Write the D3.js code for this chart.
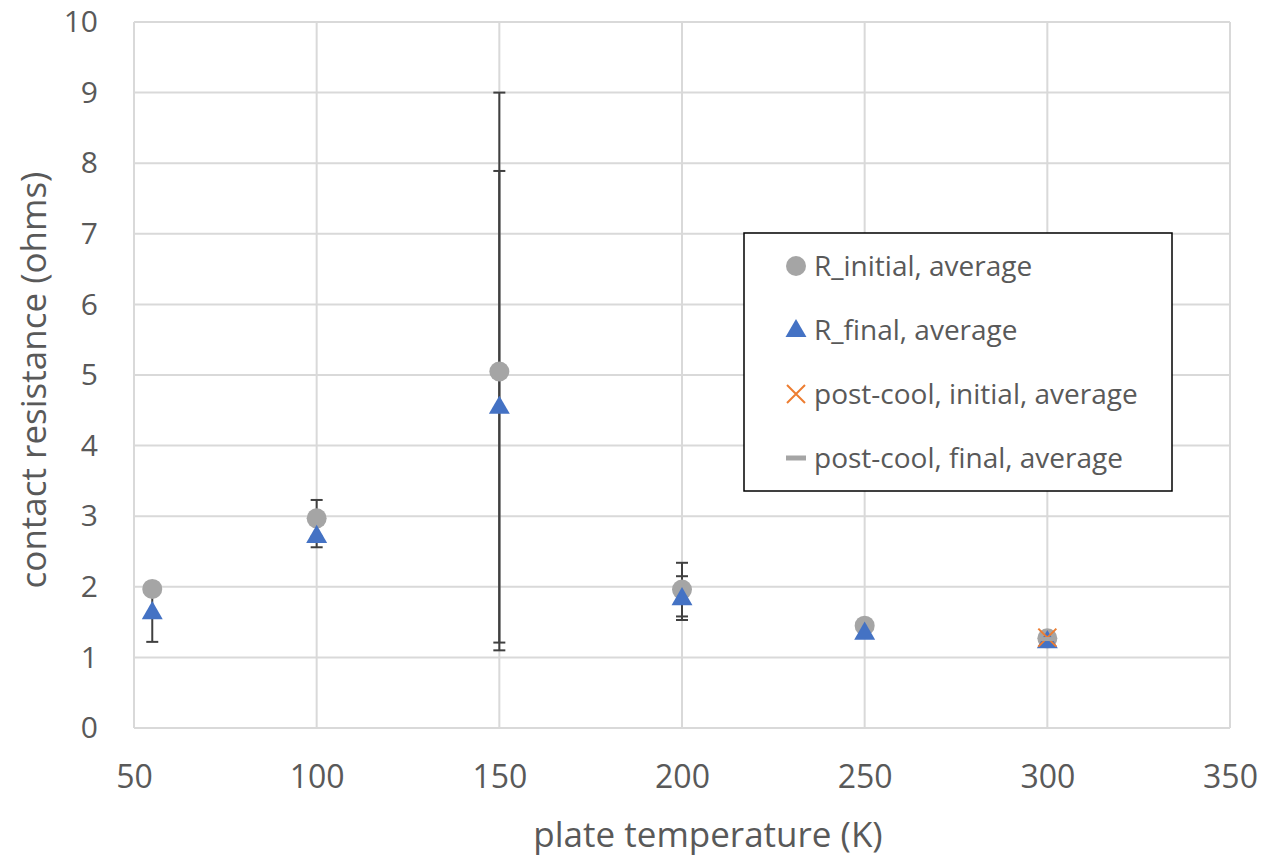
<!DOCTYPE html>
<html>
<head>
<meta charset="utf-8">
<script src="https://cdnjs.cloudflare.com/ajax/libs/d3/7.8.5/d3.min.js"></script>
<style>
  body { margin: 0; background: #fff; }
  text { font-family: "Open Sans", "Noto Sans", sans-serif; fill: #595959; }
</style>
</head>
<body>
<svg id="chart"></svg>
<script>
// Temperatures (K)
const temps = [55, 100, 150, 200, 250, 300];
// R_initial averages and error (+/-)
const rInitial = [1.97, 2.97, 5.05, 1.96, 1.45, 1.27];
const rInitialErr = [0.08, 0.26, 3.95, 0.38, 0, 0];
// R_final averages and error
const rFinal = [1.64, 2.72, 4.55, 1.84, 1.35, 1.23];
const rFinalErr = [0.42, 0.16, 3.34, 0.31, 0, 0];
// post-cool values, only measured at 300 K
const postTemps = [300];
const postInitial = [1.28];
const postFinal = [1.26];

const xTicks = [50, 100, 150, 200, 250, 300, 350];
const yTicks = [0, 1, 2, 3, 4, 5, 6, 7, 8, 9, 10];

const width = 1265, height = 860;
const margin = { top: 22, right: 35, bottom: 132, left: 134 };

const svg = d3.select('#chart')
  .attr('width', width)
  .attr('height', height);

const x = d3.scaleLinear().domain([50, 350]).range([margin.left, width - margin.right]);
const y = d3.scaleLinear().domain([0, 10]).range([height - margin.bottom, margin.top]);

const gridColor = '#d9d9d9';

// Gridlines
svg.append('g')
  .selectAll('line')
  .data(yTicks)
  .enter()
  .append('line')
  .attr('x1', x(50)).attr('x2', x(350))
  .attr('y1', d => y(d)).attr('y2', d => y(d))
  .attr('stroke', gridColor)
  .attr('stroke-width', 2);

svg.append('g')
  .selectAll('line')
  .data(xTicks)
  .enter()
  .append('line')
  .attr('x1', d => x(d)).attr('x2', d => x(d))
  .attr('y1', y(0)).attr('y2', y(10))
  .attr('stroke', gridColor)
  .attr('stroke-width', 2);

// Axes (labels only, Excel style)
const xAxis = svg.append('g')
  .attr('transform', `translate(0,${y(0)})`)
  .call(d3.axisBottom(x).tickValues(xTicks).tickSize(0).tickPadding(37));
xAxis.select('.domain').remove();
xAxis.selectAll('text').style('font-size', '32px').attr('fill', '#595959');

const yAxis = svg.append('g')
  .attr('transform', `translate(${x(50)},0)`)
  .call(d3.axisLeft(y).tickValues(yTicks).tickSize(0).tickPadding(36));
yAxis.select('.domain').remove();
yAxis.selectAll('text').style('font-size', '30px').attr('fill', '#595959');

// Axis titles
svg.append('text')
  .attr('x', (x(50) + x(350)) / 2 + 26)
  .attr('y', 847)
  .attr('text-anchor', 'middle')
  .style('font-size', '35px')
  .text('plate temperature (K)');

svg.append('text')
  .attr('transform', `translate(46,${(y(0) + y(10)) / 2 + 5}) rotate(-90)`)
  .attr('text-anchor', 'middle')
  .style('font-size', '35px')
  .text('contact resistance (ohms)');

// Error bars
const errColor = '#404040';
const drawErrors = (vals, errs) => {
  const data = temps.map((t, i) => ({ t, v: vals[i], e: errs[i] })).filter(d => d.e > 0);
  const g = svg.append('g').attr('stroke', errColor).attr('stroke-width', 2);
  g.selectAll('.stem').data(data).enter().append('line')
    .attr('x1', d => x(d.t)).attr('x2', d => x(d.t))
    .attr('y1', d => y(d.v - d.e)).attr('y2', d => y(d.v + d.e));
  [-1, 1].forEach(s => {
    g.selectAll('.cap' + s).data(data).enter().append('line')
      .attr('x1', d => x(d.t) - 6).attr('x2', d => x(d.t) + 6)
      .attr('y1', d => y(d.v + s * d.e)).attr('y2', d => y(d.v + s * d.e));
  });
};
drawErrors(rInitial, rInitialErr);
drawErrors(rFinal, rFinalErr);

const grey = '#a5a5a5', blue = '#4472c4', orange = '#ed7d31';
const triangle = d3.symbol().type(d3.symbolTriangle).size(190);

// R_initial circles
svg.append('g')
  .selectAll('circle')
  .data(temps)
  .enter()
  .append('circle')
  .attr('cx', d => x(d))
  .attr('cy', (d, i) => y(rInitial[i]))
  .attr('r', 10)
  .attr('fill', grey);

// R_final triangles
svg.append('g')
  .selectAll('path')
  .data(temps)
  .enter()
  .append('path')
  .attr('d', triangle)
  .attr('transform', (d, i) => `translate(${x(d)},${y(rFinal[i]) + 1})`)
  .attr('fill', blue);

// post-cool initial (x marks)
svg.append('g')
  .selectAll('path')
  .data(postTemps)
  .enter()
  .append('path')
  .attr('d', 'M-9,-9L9,9M-9,9L9,-9')
  .attr('transform', (d, i) => `translate(${x(d)},${y(postInitial[i])})`)
  .attr('stroke', orange)
  .attr('stroke-width', 2)
  .attr('fill', 'none');

// post-cool final (dash)
svg.append('g')
  .selectAll('line')
  .data(postTemps)
  .enter()
  .append('line')
  .attr('x1', d => x(d) - 9).attr('x2', d => x(d) + 9)
  .attr('y1', (d, i) => y(postFinal[i])).attr('y2', (d, i) => y(postFinal[i]))
  .attr('stroke', grey)
  .attr('stroke-width', 4);

// Legend
const legendItems = [
  { label: 'R_initial, average', kind: 'circle' },
  { label: 'R_final, average', kind: 'triangle' },
  { label: 'post-cool, initial, average', kind: 'x' },
  { label: 'post-cool, final, average', kind: 'dash' }
];

const legend = svg.append('g').attr('transform', 'translate(744,233)');
legend.append('rect')
  .attr('width', 428).attr('height', 258)
  .attr('fill', '#fff')
  .attr('stroke', '#000')
  .attr('stroke-width', 1.5);

const item = legend.selectAll('.item')
  .data(legendItems)
  .enter()
  .append('g')
  .attr('transform', (d, i) => `translate(52,${33 + i * 64})`);

item.each(function (d) {
  const g = d3.select(this);
  if (d.kind === 'circle') {
    g.append('circle').attr('r', 10).attr('fill', grey);
  } else if (d.kind === 'triangle') {
    g.append('path').attr('d', triangle).attr('fill', blue).attr('transform', 'translate(0,1)');
  } else if (d.kind === 'x') {
    g.append('path').attr('d', 'M-9,-9L9,9M-9,9L9,-9').attr('stroke', orange).attr('stroke-width', 2);
  } else {
    g.append('line').attr('x1', -10).attr('x2', 10).attr('stroke', grey).attr('stroke-width', 5);
  }
});

item.append('text')
  .attr('x', 18)
  .attr('dy', '0.35em')
  .style('font-size', '28px')
  .text(d => d.label);
</script>
</body>
</html>
